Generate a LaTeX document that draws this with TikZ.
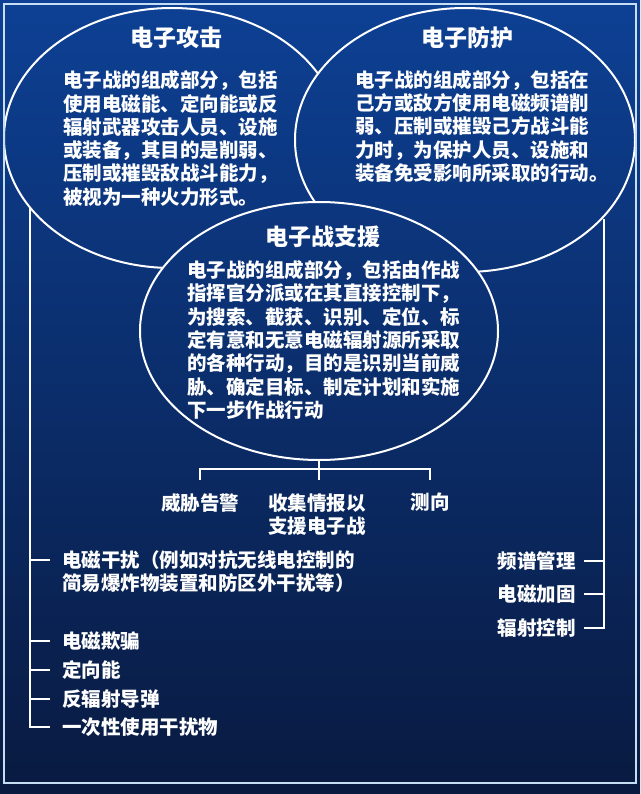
\documentclass[tikz,border=0pt]{standalone}
\usepackage{fontspec}
\setmainfont{Noto Sans CJK SC}
\usepackage{xcolor}
\usetikzlibrary{shapes,positioning}

\definecolor{bgtop}{RGB}{13,64,148}
\definecolor{bgmid}{RGB}{11,46,110}
\definecolor{bgbot}{RGB}{9,26,64}
\definecolor{framec}{RGB}{196,222,244}

\begin{document}
\begin{tikzpicture}[x=1pt, y=-1pt, semithick,
    bubble/.style={ellipse, draw=white, line width=2pt, inner sep=0pt, outer sep=0pt,
      path picture={\shade[top color=bgtop, middle color=bgmid, bottom color=bgbot] (pagetl) rectangle (pagebr);}},
    areahead/.style={text=white, font=\bfseries\fontsize{23}{27}\selectfont, inner sep=0pt},
    areatext/.style={text=white, font=\bfseries\fontsize{19.5}{23.3}\selectfont, align=left, inner sep=0pt},
    listentry/.style={text=white, font=\bfseries\fontsize{19.5}{23.3}\selectfont, inner sep=0pt},
    wire/.style={draw=white, line width=2.6pt}]

  \useasboundingbox (0,0) rectangle (640,794);
  \coordinate (pagetl) at (0,0);
  \coordinate (pagebr) at (640,794);
  \shade[top color=bgtop, middle color=bgmid, bottom color=bgbot] (pagetl) rectangle (pagebr);

  % the three areas
  \node[bubble, minimum width=336pt, minimum height=260pt] (ea) at (172,138) {};
  \node[bubble, minimum width=340pt, minimum height=264pt] (ep) at (465,140) {};
  \node[bubble, minimum width=358pt, minimum height=258pt] (es) at (319,331) {};

  \draw[framec, line width=1.6pt] (4,4) rectangle (636,783);

  \node[areahead] (eahead) at (176,38) {电子攻击};
  \node[areatext, anchor=west] (eatext) at (63,138.5) {电子战的组成部分，包括\\使用电磁能、定向能或反\\辐射武器攻击人员、设施\\或装备，其目的是削弱、\\压制或摧毁敌战斗能力，\\被视为一种火力形式。};

  \node[areahead] (ephead) at (467,38) {电子防护};
  \node[areatext, anchor=west] (eptext) at (355,126.5) {电子战的组成部分，包括在\\己方或敌方使用电磁频谱削\\弱、压制或摧毁己方战斗能\\力时，为保护人员、设施和\\装备免受影响所采取的行动。};

  \node[areahead] (eshead) at (323,237) {电子战支援};
  \node[areatext, anchor=west] (estext) at (187,340) {电子战的组成部分，包括由作战\\指挥官分派或在其直接控制下，\\为搜索、截获、识别、定位、标\\定有意和无意电磁辐射源所采取\\的各种行动，目的是识别当前威\\胁、确定目标、制定计划和实施\\下一步作战行动};

  % support branches
  \node[listentry, anchor=north] (warn) at (200,493) {威胁告警};
  \node[listentry, anchor=north, align=center] (intel) at (317,493) {收集情报以\\支援电子战};
  \node[listentry, anchor=north] (df) at (430,493) {测向};
  \coordinate (bar) at ([yshift=-9pt]es.south);
  \draw[wire] ([yshift=13pt]warn.north) |- (bar) -| ([yshift=13pt]df.north);
  \draw[wire] (es.south) -- ++(0,20);

  % attack list
  \coordinate (lx) at (30,0);
  \node[listentry, anchor=west] (jam) at (62,560) {电磁干扰（例如对抗无线电控制的};
  \node[listentry] (jam2) [below=3.5pt of jam.south west, anchor=north west] {简易爆炸物装置和防区外干扰等）};
  \node[listentry, anchor=west] (decoy) at (62,641) {电磁欺骗};
  \node[listentry, anchor=west] (dew) at (62,670) {定向能};
  \node[listentry, anchor=west] (arm) at (62,699) {反辐射导弹};
  \node[listentry, anchor=west] (disp) at (62,727) {一次性使用干扰物};
  \draw[wire] (lx |- ea.206) |- ([xshift=-12pt]disp.west);
  \foreach \n in {jam,decoy,dew,arm}
    \draw[wire] (lx |- \n.west) -- ([xshift=-12pt]\n.west);

  % protection list
  \coordinate (rx) at (604,0);
  \node[listentry, anchor=east] (spec) at (576,561) {频谱管理};
  \node[listentry, anchor=east] (harden) at (576,594) {电磁加固};
  \node[listentry, anchor=east] (emcon) at (576,628) {辐射控制};
  \draw[wire] (rx |- ep.330) |- ([xshift=8pt]emcon.east);
  \foreach \n in {spec,harden}
    \draw[wire] (rx |- \n.east) -- ([xshift=8pt]\n.east);
\end{tikzpicture}
\end{document}
